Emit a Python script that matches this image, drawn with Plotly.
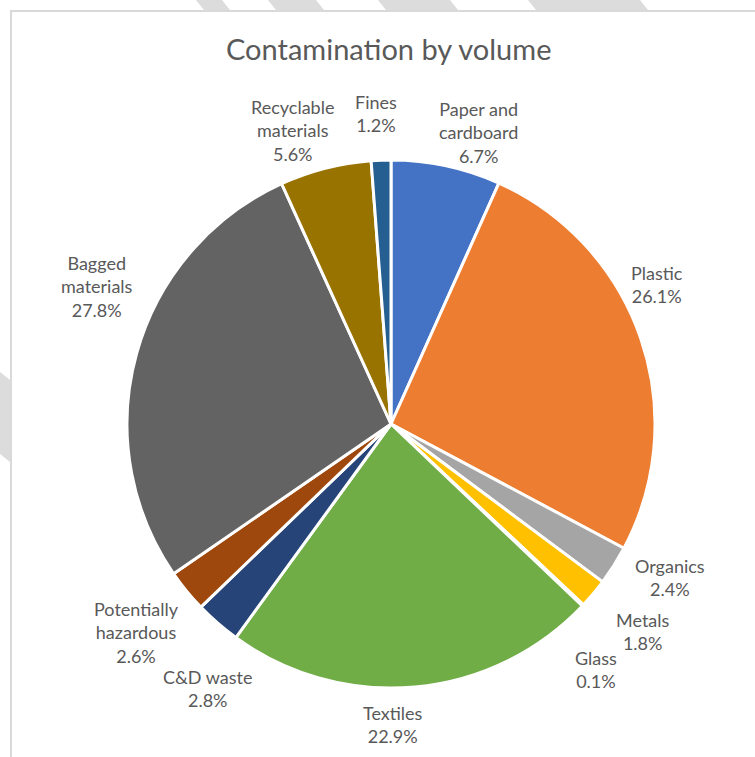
import plotly.graph_objects as go

# ---- data ----
categories = ["Paper and cardboard", "Plastic", "Organics", "Metals", "Glass",
              "Textiles", "C&D waste", "Potentially hazardous", "Bagged materials",
              "Recyclable materials", "Fines"]
label_text = ["Paper and<br>cardboard", "Plastic", "Organics", "Metals", "Glass",
              "Textiles", "C&D waste", "Potentially<br>hazardous", "Bagged<br>materials",
              "Recyclable<br>materials", "Fines"]
values = [6.7, 26.1, 2.4, 1.8, 0.1, 22.9, 2.8, 2.6, 27.8, 5.6, 1.2]
colors = ["#4472C4", "#ED7D31", "#A5A5A5", "#FFC000", "#5B9BD5",
          "#70AD47", "#264478", "#9E480E", "#636363", "#997300", "#255E91"]

# label centre positions in pixels (layout)
label_pos = [(478, 132), (657, 285), (670, 577), (643, 631), (596, 669),
             (393, 724), (207, 688), (136, 632), (97, 286), (292, 130), (376, 113)]

W, H = 755, 757
FONT = "Lato"
TXT = "#595959"

fig = go.Figure(go.Pie(
    labels=categories, values=values, sort=False, direction="clockwise",
    rotation=0, textinfo="none", hoverinfo="label+percent",
    marker=dict(colors=colors, line=dict(color="white", width=3)),
    domain=dict(x=[127 / W, 655 / W], y=[1 - 688 / H, 1 - 160 / H]),
    showlegend=False,
))

annotations = []
for txt, v, (px, py) in zip(label_text, values, label_pos):
    annotations.append(dict(
        text=f"{txt}<br>{v:.1f}%", x=px / W, y=1 - py / H, xref="paper", yref="paper",
        xanchor="center", yanchor="middle", showarrow=False, align="center",
        font=dict(family=FONT, size=18, color=TXT)))
annotations.append(dict(
    text="Contamination by volume", x=388 / W, y=1 - 48 / H, xref="paper", yref="paper",
    xanchor="center", yanchor="middle", showarrow=False,
    font=dict(family=FONT, size=29, color=TXT)))

def P(x, y):
    return f"{x / W:.5f},{1 - y / H:.5f}"

shapes = []
# background diagonal stripes in the outer margin
for (x0, x1) in [(268, 316), (378, 450), (528, 614), (598, 640), (196, 222)]:
    shapes.append(dict(type="path", xref="paper", yref="paper", layer="below",
                       path=f"M {P(x0, 0)} L {P(x1, 0)} L {P(x1 + 8, 10)} L {P(x0 + 8, 10)} Z",
                       fillcolor="#DCDCDC", line=dict(width=0)))
shapes.append(dict(type="path", xref="paper", yref="paper", layer="below",
                   path=f"M {P(0, 372)} L {P(10, 380)} L {P(10, 462)} L {P(0, 454)} Z",
                   fillcolor="#DCDCDC", line=dict(width=0)))
# chart frame
shapes.append(dict(type="path", xref="paper", yref="paper",
                   path=f"M {P(11, H)} L {P(11, 11)} L {P(W, 11)}",
                   line=dict(color="#D9D9D9", width=2)))

fig.update_layout(
    width=W, height=H, margin=dict(l=0, r=0, t=0, b=0),
    paper_bgcolor="white", plot_bgcolor="white",
    annotations=annotations, shapes=shapes,
)

fig.write_html("out.html")
